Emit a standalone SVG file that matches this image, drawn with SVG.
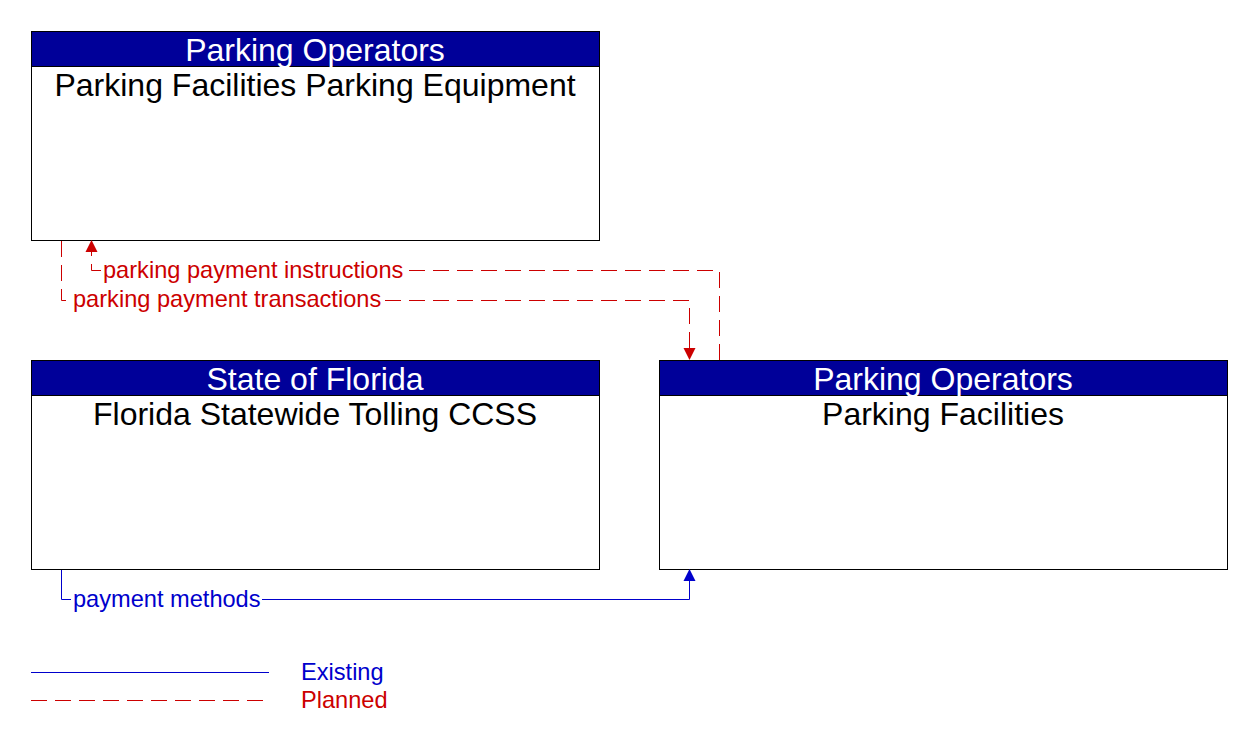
<svg xmlns="http://www.w3.org/2000/svg" width="1252" height="746" viewBox="0 0 1252 746">
<style>
.box{fill:#fff;stroke:#000;stroke-width:1}
.hdr{fill:#000099;stroke:#000;stroke-width:1}
.ht{font-family:"Liberation Sans",Arial,sans-serif;font-size:32px;fill:#fff;text-anchor:middle}
.bt{font-family:"Liberation Sans",Arial,sans-serif;font-size:32px;fill:#000;text-anchor:middle}
.lbl{font-family:"Liberation Sans",Arial,sans-serif;font-size:23.6px}
.ex{stroke:#0000cc;stroke-width:1;fill:none}
.pl{stroke:#cc0000;stroke-width:1;fill:none;stroke-dasharray:16 8}
</style>
<g id="node-ppe">
<rect class="box" x="31.5" y="31.5" width="568" height="209"/>
<rect class="hdr" x="31.5" y="31.5" width="568" height="35"/>
<text class="ht" x="315" y="61">Parking Operators</text>
<text class="bt" x="315" y="96">Parking Facilities Parking Equipment</text>
</g>
<g id="node-fst">
<rect class="box" x="31.5" y="360.5" width="568" height="209"/>
<rect class="hdr" x="31.5" y="360.5" width="568" height="35"/>
<text class="ht" x="315" y="390">State of Florida</text>
<text class="bt" x="315" y="425">Florida Statewide Tolling CCSS</text>
</g>
<g id="node-pf">
<rect class="box" x="659.5" y="360.5" width="568" height="209"/>
<rect class="hdr" x="659.5" y="360.5" width="568" height="35"/>
<text class="ht" x="943" y="390">Parking Operators</text>
<text class="bt" x="943" y="425">Parking Facilities</text>
</g>
<g id="connectors">
<path class="pl" d="M719.5,360 V270.5 H405"/>
<path class="pl" d="M101,270.5 H91.5 V251"/>
<path d="M91.5,240 L85.5,252 L97.5,252 Z" fill="#cc0000"/>
<text class="lbl" x="103" y="278" fill="#cc0000">parking payment instructions</text>
<path class="pl" d="M61.5,241 V300.5 H70"/>
<path class="pl" d="M385,300.5 H689.5 V349"/>
<path d="M689.5,360 L683.5,348 L695.5,348 Z" fill="#cc0000"/>
<text class="lbl" x="73" y="307" fill="#cc0000">parking payment transactions</text>
<path class="ex" d="M61.5,570 V599.5 H71"/>
<path class="ex" d="M262,599.5 H689.5 V580"/>
<path d="M689.5,569 L683.5,581 L695.5,581 Z" fill="#0000cc"/>
<text class="lbl" x="73" y="607" fill="#0000cc">payment methods</text>
</g>
<g id="legend">
<line class="ex" x1="31" y1="672.5" x2="269" y2="672.5"/>
<text class="lbl" x="301" y="680" fill="#0000cc">Existing</text>
<line class="pl" x1="31" y1="700.5" x2="269" y2="700.5"/>
<text class="lbl" x="301" y="708" fill="#cc0000">Planned</text>
</g>
</svg>
